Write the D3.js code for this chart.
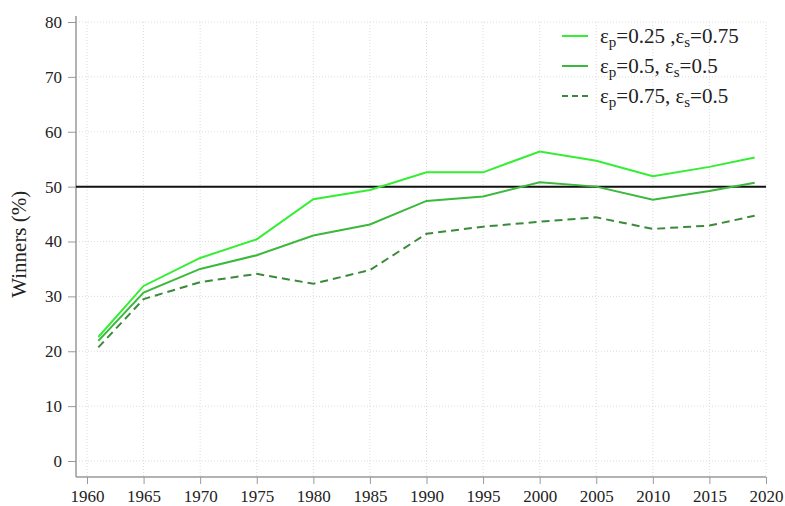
<!DOCTYPE html>
<html>
<head>
<meta charset="utf-8">
<script src="https://cdn.jsdelivr.net/npm/d3@7"></script>
<style>
  body { margin: 0; background: #fff; }
  svg text { font-family: "Liberation Serif", "DejaVu Serif", serif; fill: #222; }
</style>
</head>
<body>
<div id="graph"></div>
<script>
const svgw = 785
const svgh = 506
const margin = { left: 76, right: 18, top: 22, bottom: 45 }

// data
const years = [1961, 1965, 1970, 1975, 1980, 1985, 1990, 1995, 2000, 2005, 2010, 2015, 2019]
const seriesA = [22.6, 31.9, 37.0, 40.4, 47.7, 49.4, 52.6, 52.6, 56.4, 54.7, 51.9, 53.6, 55.3]
const seriesB = [21.9, 30.7, 35.0, 37.5, 41.1, 43.1, 47.4, 48.2, 50.8, 50.0, 47.6, 49.2, 50.7]
const seriesC = [20.7, 29.5, 32.6, 34.1, 32.3, 34.8, 41.4, 42.7, 43.6, 44.4, 42.3, 42.9, 44.7]
const xTicks = d3.range(1960, 2021, 5)
const yTicks = [0, 10, 20, 30, 40, 50, 60, 70, 80]
const refLine = 50
const legendLabels = [
    [['ε', ''], ['p', 'sub'], ['=0.25 ,ε', ''], ['s', 'sub'], ['=0.75', '']],
    [['ε', ''], ['p', 'sub'], ['=0.5, ε', ''], ['s', 'sub'], ['=0.5', '']],
    [['ε', ''], ['p', 'sub'], ['=0.75, ε', ''], ['s', 'sub'], ['=0.5', '']]
]

const series = [
    { values: seriesA, color: '#33ee33', dash: null },
    { values: seriesB, color: '#3cb83c', dash: null },
    { values: seriesC, color: '#3a8a3a', dash: '8,5' }
]

const svg = d3.select('#graph')
    .append('svg')
    .attr('width', svgw)
    .attr('height', svgh)

const xScale = d3.scaleLinear()
    .domain([1960, 2020])
    .range([87, 766])

const yScale = d3.scaleLinear()
    .domain([0, 80])
    .range([461, 22])

// grid
svg.append('g')
    .selectAll('line')
    .data(yTicks)
    .enter()
    .append('line')
    .attr('x1', margin.left)
    .attr('x2', xScale(2020))
    .attr('y1', d => yScale(d))
    .attr('y2', d => yScale(d))
    .attr('stroke', '#dcdcdc')
    .attr('stroke-width', 1)
    .attr('stroke-dasharray', '1,2')

svg.append('g')
    .selectAll('line')
    .data(xTicks)
    .enter()
    .append('line')
    .attr('x1', d => xScale(d))
    .attr('x2', d => xScale(d))
    .attr('y1', yScale(80))
    .attr('y2', 477)
    .attr('stroke', '#dcdcdc')
    .attr('stroke-width', 1)
    .attr('stroke-dasharray', '1,2')

// axes
const yAxis = d3.axisLeft(yScale)
    .tickValues(yTicks)
    .tickSize(8)
    .tickPadding(6)
const xAxis = d3.axisBottom(xScale)
    .tickValues(xTicks)
    .tickFormat(d3.format('d'))
    .tickSize(7)
    .tickPadding(6)

const gy = svg.append('g')
    .attr('transform', `translate(${margin.left},0)`)
    .call(yAxis)
gy.select('.domain').attr('d', `M0,16V477`)

const gx = svg.append('g')
    .attr('transform', `translate(0,477)`)
    .call(xAxis)
gx.select('.domain').attr('d', `M${margin.left},0H${xScale(2020)}`)

svg.selectAll('.domain').attr('stroke', '#999').attr('stroke-width', 1.5)
svg.selectAll('.tick line').attr('stroke', '#999')
svg.selectAll('.tick text')
    .style('font-family', '"Liberation Serif", serif')
    .style('font-size', '17px')
    .attr('fill', '#222')

// reference line
svg.append('line')
    .attr('x1', margin.left)
    .attr('x2', xScale(2020))
    .attr('y1', yScale(refLine))
    .attr('y2', yScale(refLine))
    .attr('stroke', '#111')
    .attr('stroke-width', 2)

// series
const line = d3.line()
    .x((d, i) => xScale(years[i]))
    .y(d => yScale(d))

series.forEach(s => {
    svg.append('path')
        .datum(s.values)
        .attr('d', line)
        .attr('fill', 'none')
        .attr('stroke', s.color)
        .attr('stroke-width', 2)
        .attr('stroke-dasharray', s.dash)
})

// y label
svg.append('text')
    .attr('transform', `translate(26,${yScale(39.5)}) rotate(-90)`)
    .attr('text-anchor', 'middle')
    .style('font-size', '21px')
    .text('Winners (%)')

// legend
const legend = svg.append('g')
const legendY = [36, 66, 96]
series.forEach((s, i) => {
    legend.append('line')
        .attr('x1', 562)
        .attr('x2', 588)
        .attr('y1', legendY[i])
        .attr('y2', legendY[i])
        .attr('stroke', s.color)
        .attr('stroke-width', 2)
        .attr('stroke-dasharray', s.dash ? '6,4' : null)
    const t = legend.append('text')
        .attr('x', 600)
        .attr('y', legendY[i] + 7)
        .style('font-size', '21px')
    legendLabels[i].forEach(([txt, kind]) => {
        const sp = t.append('tspan').text(txt)
        if (kind === 'sub') sp.attr('baseline-shift', '-25%').style('font-size', '15px')
    })
})
</script>
</body>
</html>
